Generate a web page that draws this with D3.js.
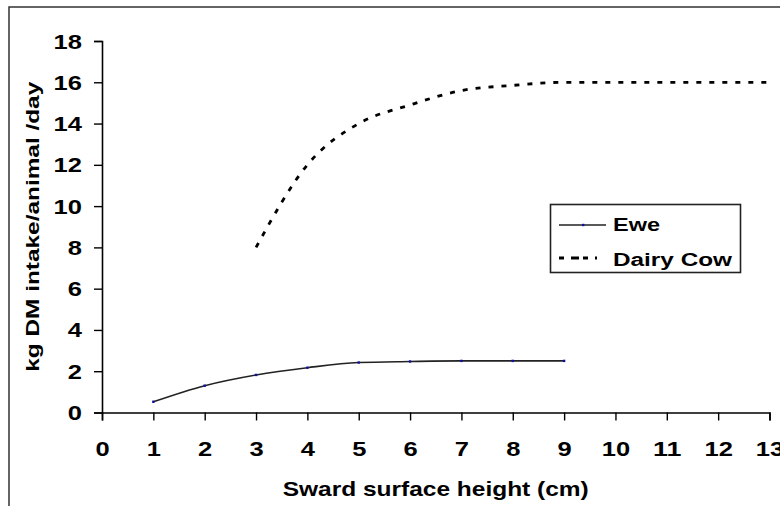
<!DOCTYPE html>
<html>
<head>
<meta charset="utf-8">
<script src="https://cdn.jsdelivr.net/npm/d3@7"></script>
<style>
  body { margin: 0; background: #fff; }
  .chart { width: 780px; height: 506px; }
  text { font-family: 'Liberation Sans', Arial, sans-serif; font-weight: bold; }
</style>
</head>
<body>
<div class="chart"></div>
<script>
// 数据
let ewe = [
  { x: 1, y: 0.52 }, { x: 2, y: 1.3 }, { x: 3, y: 1.82 }, { x: 4, y: 2.17 },
  { x: 5, y: 2.42 }, { x: 6, y: 2.47 }, { x: 7, y: 2.5 }, { x: 8, y: 2.5 }, { x: 9, y: 2.5 }
]
let cow = [
  { x: 3, y: 8 }, { x: 4, y: 12 }, { x: 5, y: 14 }, { x: 6, y: 14.9 }, { x: 7, y: 15.6 },
  { x: 8, y: 15.85 }, { x: 9, y: 16 }, { x: 10, y: 16 }, { x: 11, y: 16 }, { x: 12, y: 16 }, { x: 13, y: 16 }
]
let xTicks = [0, 1, 2, 3, 4, 5, 6, 7, 8, 9, 10, 11, 12, 13]
let yTicks = [0, 2, 4, 6, 8, 10, 12, 14, 16, 18]
let seriesNames = ['Ewe', 'Dairy Cow']

let el = d3.select('.chart')
let svg = el.append('svg').attr('width', 780).attr('height', 506)

// 外框
svg.append('rect')
  .attr('x', 9).attr('y', 7)
  .attr('width', 800).attr('height', 520)
  .attr('fill', 'none')
  .attr('stroke', '#333')
  .attr('stroke-width', 1.5)

let x = d3.scaleLinear().domain([0, 13]).range([102, 769.5])
let y = d3.scaleLinear().domain([0, 18]).range([412.5, 41])

// 坐标轴
let gx = svg.append('g')
  .attr('transform', 'translate(0,' + y(0) + ')')
  .call(d3.axisBottom(x).tickValues(xTicks).tickSize(8).tickPadding(10).tickFormat(d3.format('d')))
let gy = svg.append('g')
  .attr('transform', 'translate(' + x(0) + ',0)')
  .call(d3.axisLeft(y).tickValues(yTicks).tickSize(8).tickPadding(12).tickFormat(d3.format('d')))

;[gx, gy].forEach(g => {
  g.select('.domain').attr('stroke', '#000').attr('stroke-width', 1.6)
  g.selectAll('.tick line').attr('stroke', '#000').attr('stroke-width', 1.4)
  g.selectAll('.tick text')
    .attr('fill', '#000')
    .attr('textLength', d => String(d).length * 14.2) // 原图文字横向偏宽
    .attr('lengthAdjust', 'spacingAndGlyphs')
    .style('font-size', '19.5px')
    .style('font-family', "'Liberation Sans', Arial, sans-serif")
    .style('font-weight', 'bold')
})
gx.selectAll('.tick text').attr('y', 43.5).attr('dy', null)
gy.selectAll('.tick text').attr('x', -20).attr('dy', '0.36em')

// 标题
svg.append('text')
  .attr('x', (x(0) + x(13)) / 2)
  .attr('y', 496)
  .attr('text-anchor', 'middle')
  .attr('font-size', '20.5px')
  .attr('textLength', 306)
  .attr('lengthAdjust', 'spacingAndGlyphs')
  .attr('fill', '#000')
  .text('Sward surface height (cm)')

svg.append('text')
  .attr('transform', 'translate(39,' + (y(0) + y(18)) / 2 + ') rotate(-90)')
  .attr('text-anchor', 'middle')
  .attr('font-size', '19px')
  .attr('textLength', 290)
  .attr('lengthAdjust', 'spacingAndGlyphs')
  .attr('fill', '#000')
  .text('kg DM intake/animal /day')

// 曲线
let line = d3.line()
  .x(d => x(d.x))
  .y(d => y(d.y))
  .curve(d3.curveMonotoneX)

svg.append('path')
  .datum(ewe)
  .attr('d', line)
  .attr('fill', 'none')
  .attr('stroke', '#222')
  .attr('stroke-width', 1.6)

svg.selectAll('.ewe-dot')
  .data(ewe)
  .enter()
  .append('rect')
  .attr('class', 'ewe-dot')
  .attr('x', d => x(d.x) - 1.2)
  .attr('y', d => y(d.y) - 1.2)
  .attr('width', 2.4)
  .attr('height', 2.4)
  .attr('fill', '#1010a0')

svg.append('path')
  .datum(cow)
  .attr('d', line)
  .attr('fill', 'none')
  .attr('stroke', '#000')
  .attr('stroke-width', 2.8)
  .attr('stroke-dasharray', '5,8')

// 图例
let lg = svg.append('g').attr('class', 'legend')
lg.append('rect')
  .attr('x', 550.5).attr('y', 204.5)
  .attr('width', 190).attr('height', 68)
  .attr('fill', '#fff')
  .attr('stroke', '#222')
  .attr('stroke-width', 1.6)

lg.append('line')
  .attr('x1', 559).attr('x2', 606)
  .attr('y1', 225).attr('y2', 225)
  .attr('stroke', '#222').attr('stroke-width', 1.4)
lg.append('rect')
  .attr('x', 582).attr('y', 223.8)
  .attr('width', 2.4).attr('height', 2.4)
  .attr('fill', '#1010a0')
lg.append('line')
  .attr('x1', 559).attr('x2', 597)
  .attr('y1', 258).attr('y2', 258)
  .attr('stroke', '#000').attr('stroke-width', 3.2)
  .attr('stroke-dasharray', '5,7,8,4')

lg.selectAll('.legend-text')
  .data(seriesNames)
  .enter()
  .append('text')
  .attr('class', 'legend-text')
  .attr('x', 613)
  .attr('y', (d, i) => 231 + i * 35)
  .attr('font-size', '17.5px')
  .attr('textLength', d => d === 'Ewe' ? 47 : 119)
  .attr('lengthAdjust', 'spacingAndGlyphs')
  .attr('fill', '#000')
  .text(d => d)
</script>
</body>
</html>
